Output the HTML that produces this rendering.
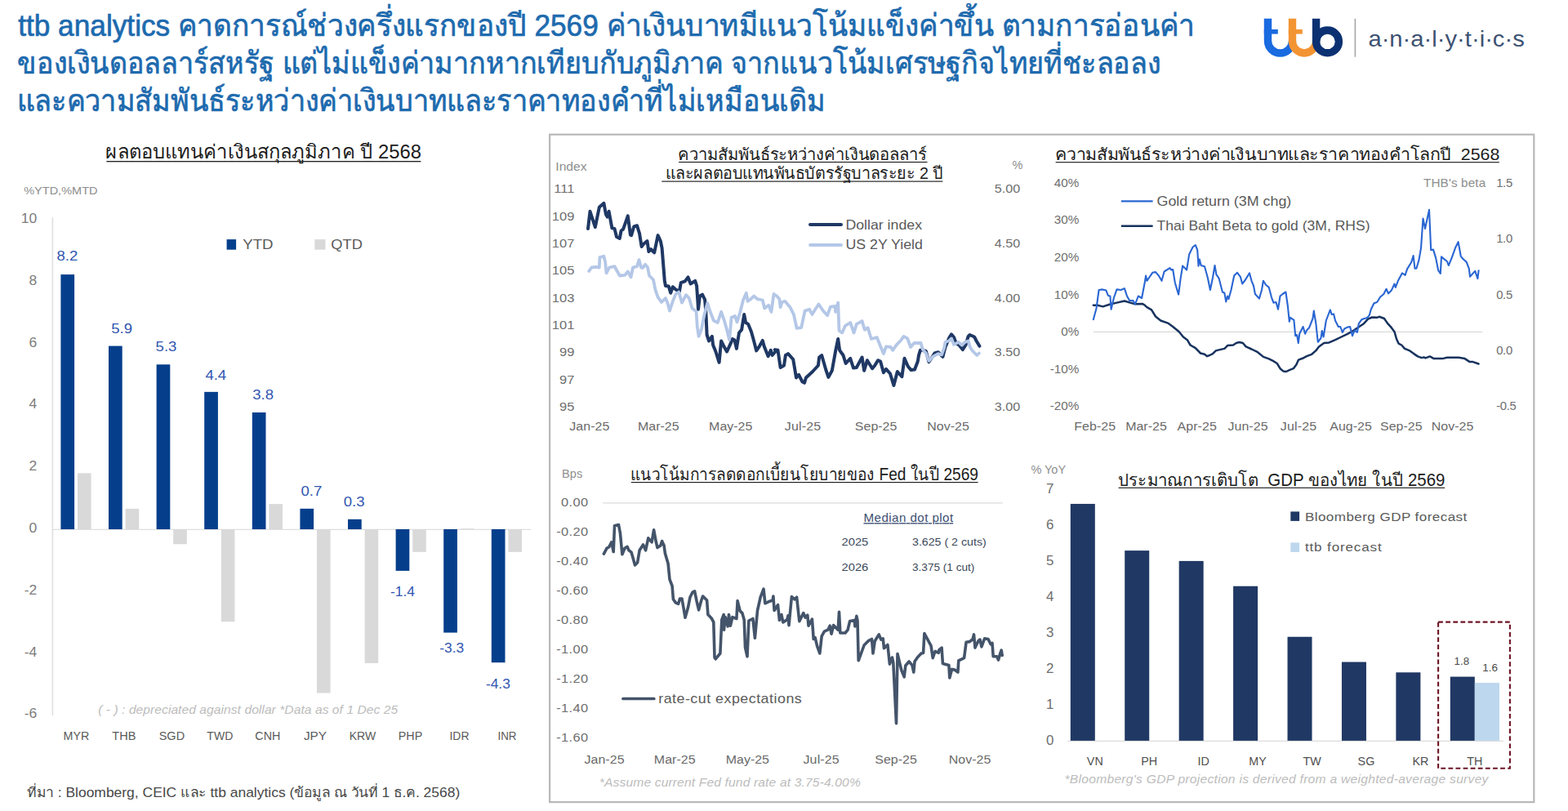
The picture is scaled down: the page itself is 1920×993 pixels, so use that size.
<!DOCTYPE html>
<html lang="th"><head><meta charset="utf-8"><title>ttb analytics</title>
<style>
html,body{margin:0;padding:0;background:#fff;}
body{width:1920px;height:993px;position:relative;overflow:hidden;font-family:"Liberation Sans",sans-serif;}
svg{position:absolute;left:0;top:0;}
text{font-family:"Liberation Sans",sans-serif;white-space:pre;}
</style></head><body>
<svg width="1920" height="993" viewBox="0 0 1920 993">
<text x="22.15" y="43.80" font-size="37.6" fill="#1d6aae" stroke="#1d6aae" stroke-width="0.7" textLength="1441" lengthAdjust="spacingAndGlyphs">ttb analytics คาดการณ์ช่วงครึ่งแรกของปี 2569 ค่าเงินบาทมีแนวโน้มแข็งค่าขึ้น ตามการอ่อนค่า</text>
<text x="21.43" y="90.00" font-size="37.6" fill="#1d6aae" stroke="#1d6aae" stroke-width="0.7" textLength="1400" lengthAdjust="spacingAndGlyphs">ของเงินดอลลาร์สหรัฐ แต่ไม่แข็งค่ามากหากเทียบกับภูมิภาค จากแนวโน้มเศรษฐกิจไทยที่ชะลอลง</text>
<text x="20.59" y="136.30" font-size="37.6" fill="#1d6aae" stroke="#1d6aae" stroke-width="0.7" textLength="990" lengthAdjust="spacingAndGlyphs">และความสัมพันธ์ระหว่างค่าเงินบาทและราคาทองคำที่ไม่เหมือนเดิม</text>
<g fill="none" stroke-width="9.4"><path d="M1552.5 22.8V50A15 15 0 0 0 1582.5 50" stroke="#1a6ae0"/><path d="M1582.5 22.8V50.4A14.55 14.55 0 0 0 1611.6 50.4" stroke="#f39433"/><path d="M1611.6 22.8V51" stroke="#0b3172"/><circle cx="1625.5" cy="50.9" r="13.9" stroke="#0b3172"/></g>
<rect x="1547.80" y="36.00" width="17.00" height="5.60" fill="#1a6ae0"/>
<rect x="1577.80" y="36.00" width="17.00" height="5.60" fill="#f39433"/>
<line x1="1659.40" y1="22.80" x2="1659.40" y2="69.70" stroke="#a6a6a6" stroke-width="1.6"/>
<text transform="translate(1675.40 56.60) scale(1.0618 1)" font-size="27.5" fill="#3d5273" textLength="180.26" lengthAdjust="spacing">a·n·a·l·y·t·i·c·s</text>
<rect x="673.1" y="164.7" width="1205.2" height="817.4" fill="none" stroke="#b8b8b8" stroke-width="2.2"/>
<g><text x="129.42" y="193.80" font-size="23.6" fill="#1c1c1c" textLength="386.5" lengthAdjust="spacingAndGlyphs">ผลตอบแทนค่าเงินสกุลภูมิภาค ปี 2568</text><rect x="130.40" y="197.05" width="385.00" height="1.3" fill="#1c1c1c"/></g>
<text transform="translate(29.20 238.40) scale(1.0671 1)" font-size="13.6" fill="#8c8c8c" textLength="84.62" lengthAdjust="spacing">%YTD,%MTD</text>
<line x1="64.40" y1="266.20" x2="64.40" y2="876.00" stroke="#dedede" stroke-width="1.5"/>
<line x1="64.40" y1="648.30" x2="650.00" y2="648.30" stroke="#dfdfdf" stroke-width="1.2"/>
<text transform="translate(25.75 273.00) scale(1.06 1)" font-size="16.5" fill="#7c7c7c" textLength="18.35" lengthAdjust="spacing">10</text>
<text transform="translate(35.47 348.80) scale(1.06 1)" font-size="16.5" fill="#7c7c7c">8</text>
<text transform="translate(35.47 424.60) scale(1.06 1)" font-size="16.5" fill="#7c7c7c">6</text>
<text transform="translate(35.47 500.40) scale(1.06 1)" font-size="16.5" fill="#7c7c7c">4</text>
<text transform="translate(35.47 576.20) scale(1.06 1)" font-size="16.5" fill="#7c7c7c">2</text>
<text transform="translate(35.47 652.00) scale(1.06 1)" font-size="16.5" fill="#7c7c7c">0</text>
<text transform="translate(29.65 727.80) scale(1.06 1)" font-size="16.5" fill="#7c7c7c" textLength="14.67" lengthAdjust="spacing">-2</text>
<text transform="translate(29.65 803.60) scale(1.06 1)" font-size="16.5" fill="#7c7c7c" textLength="14.67" lengthAdjust="spacing">-4</text>
<text transform="translate(29.65 879.40) scale(1.06 1)" font-size="16.5" fill="#7c7c7c" textLength="14.67" lengthAdjust="spacing">-6</text>
<rect x="74.40" y="336.10" width="16.70" height="311.90" fill="#053f8c"/>
<rect x="95.00" y="579.37" width="16.60" height="68.63" fill="#d9d9d9"/>
<text transform="translate(77.55 906.30) scale(0.9975 1)" font-size="14.3" fill="#5a5a5a" textLength="31.78" lengthAdjust="spacing">MYR</text>
<text transform="translate(69.50 319.20) scale(1.0790 1)" font-size="17.2" fill="#3156b0" textLength="23.91" lengthAdjust="spacing">8.2</text>
<rect x="133.00" y="423.60" width="16.70" height="224.40" fill="#053f8c"/>
<rect x="153.60" y="622.83" width="16.60" height="25.17" fill="#d9d9d9"/>
<text transform="translate(137.30 906.30) scale(1.0139 1)" font-size="14.3" fill="#5a5a5a" textLength="28.60" lengthAdjust="spacing">THB</text>
<text transform="translate(136.30 407.80) scale(1.0790 1)" font-size="17.2" fill="#3156b0" textLength="23.91" lengthAdjust="spacing">5.9</text>
<rect x="191.60" y="446.29" width="16.70" height="201.71" fill="#053f8c"/>
<rect x="212.20" y="648.00" width="16.60" height="18.30" fill="#d9d9d9"/>
<text transform="translate(194.70 906.30) scale(1.0133 1)" font-size="14.3" fill="#5a5a5a" textLength="30.99" lengthAdjust="spacing">SGD</text>
<text transform="translate(190.60 430.30) scale(1.0790 1)" font-size="17.2" fill="#3156b0" textLength="23.91" lengthAdjust="spacing">5.3</text>
<rect x="250.20" y="479.85" width="16.70" height="168.15" fill="#053f8c"/>
<rect x="270.80" y="648.00" width="16.60" height="113.25" fill="#d9d9d9"/>
<text transform="translate(253.30 906.30) scale(0.9828 1)" font-size="14.3" fill="#5a5a5a" textLength="32.56" lengthAdjust="spacing">TWD</text>
<text transform="translate(251.40 464.60) scale(1.0790 1)" font-size="17.2" fill="#3156b0" textLength="23.91" lengthAdjust="spacing">4.4</text>
<rect x="308.80" y="505.01" width="16.70" height="142.99" fill="#053f8c"/>
<rect x="329.40" y="617.11" width="16.60" height="30.89" fill="#d9d9d9"/>
<text transform="translate(312.30 906.30) scale(1.0006 1)" font-size="14.3" fill="#5a5a5a" textLength="30.98" lengthAdjust="spacing">CNH</text>
<text transform="translate(309.30 489.40) scale(1.0790 1)" font-size="17.2" fill="#3156b0" textLength="23.91" lengthAdjust="spacing">3.8</text>
<rect x="367.40" y="622.83" width="16.70" height="25.17" fill="#053f8c"/>
<rect x="388.00" y="648.00" width="16.60" height="200.56" fill="#d9d9d9"/>
<text transform="translate(371.95 906.30) scale(1.0714 1)" font-size="14.3" fill="#5a5a5a" textLength="26.23" lengthAdjust="spacing">JPY</text>
<text transform="translate(368.50 607.10) scale(1.0790 1)" font-size="17.2" fill="#3156b0" textLength="23.91" lengthAdjust="spacing">0.7</text>
<rect x="426.00" y="635.80" width="16.70" height="12.20" fill="#053f8c"/>
<rect x="446.60" y="648.00" width="16.60" height="163.96" fill="#d9d9d9"/>
<text transform="translate(427.65 906.30) scale(0.9817 1)" font-size="14.3" fill="#5a5a5a" textLength="33.10" lengthAdjust="spacing">KRW</text>
<text transform="translate(420.80 619.70) scale(1.0790 1)" font-size="17.2" fill="#3156b0" textLength="23.91" lengthAdjust="spacing">0.3</text>
<rect x="484.60" y="648.00" width="16.70" height="50.90" fill="#053f8c"/>
<rect x="505.20" y="648.00" width="16.60" height="27.83" fill="#d9d9d9"/>
<text transform="translate(487.80 906.30) scale(0.9999 1)" font-size="14.3" fill="#5a5a5a" textLength="29.40" lengthAdjust="spacing">PHP</text>
<text transform="translate(478.00 730.00) scale(1.0122 1)" font-size="17.2" fill="#3156b0" textLength="29.64" lengthAdjust="spacing">-1.4</text>
<rect x="543.20" y="648.00" width="16.70" height="126.59" fill="#053f8c"/>
<rect x="563.80" y="647.24" width="16.60" height="0.76" fill="#d9d9d9"/>
<text transform="translate(550.50 906.30) scale(0.9745 1)" font-size="14.3" fill="#5a5a5a" textLength="24.63" lengthAdjust="spacing">IDR</text>
<text transform="translate(538.20 798.90) scale(1.0122 1)" font-size="17.2" fill="#3156b0" textLength="29.64" lengthAdjust="spacing">-3.3</text>
<rect x="601.80" y="648.00" width="16.70" height="163.20" fill="#053f8c"/>
<rect x="622.40" y="648.00" width="16.60" height="27.83" fill="#d9d9d9"/>
<text transform="translate(609.45 906.30) scale(0.9380 1)" font-size="14.3" fill="#5a5a5a" textLength="24.63" lengthAdjust="spacing">INR</text>
<text transform="translate(594.90 842.50) scale(1.0122 1)" font-size="17.2" fill="#3156b0" textLength="29.64" lengthAdjust="spacing">-4.3</text>
<rect x="277.60" y="293.10" width="11.50" height="12.60" fill="#053f8c"/>
<text transform="translate(297.20 304.70) scale(1.0970 1)" font-size="17" fill="#5a5a5a" textLength="34.00" lengthAdjust="spacing">YTD</text>
<rect x="385.30" y="293.10" width="13.20" height="12.60" fill="#d9d9d9"/>
<text transform="translate(405.30 304.70) scale(1.0757 1)" font-size="17" fill="#5a5a5a" textLength="35.88" lengthAdjust="spacing">QTD</text>
<text transform="translate(120.20 874.20) scale(1.1000 1)" font-size="14.2" fill="#bcbcbc" textLength="333.64" lengthAdjust="spacing" font-style="italic">( - ) : depreciated against dollar *Data as of 1 Dec 25</text>
<text x="33.27" y="975.80" font-size="16.6" fill="#484848" textLength="530" lengthAdjust="spacingAndGlyphs">ที่มา : Bloomberg, CEIC และ ttb analytics (ข้อมูล ณ วันที่ 1 ธ.ค. 2568)</text>
<g><text x="830.47" y="195.90" font-size="20.4" fill="#1c1c1c" textLength="304.4" lengthAdjust="spacingAndGlyphs">ความสัมพันธ์ระหว่างค่าเงินดอลลาร์</text><rect x="831.20" y="197.93" width="304.30" height="1.15" fill="#1c1c1c"/></g>
<g><text x="814.70" y="219.40" font-size="20.4" fill="#1c1c1c" textLength="340.3" lengthAdjust="spacingAndGlyphs">และผลตอบแทนพันธบัตรรัฐบาลระยะ 2 ปี</text><rect x="810.30" y="221.53" width="344.10" height="1.15" fill="#1c1c1c"/></g>
<text transform="translate(680.30 208.60) scale(1.0920 1)" font-size="14.3" fill="#8e8e8e" textLength="34.98" lengthAdjust="spacing">Index</text>
<text transform="translate(1239.60 207.40) scale(1.0 1)" font-size="14.5" fill="#8e8e8e">%</text>
<text transform="translate(678.20 236.15) scale(1.1 1)" font-size="15" fill="#6e6e6e" textLength="23.00" lengthAdjust="spacing">111</text>
<text transform="translate(675.75 269.53) scale(1.1 1)" font-size="15" fill="#6e6e6e" textLength="25.23" lengthAdjust="spacing">109</text>
<text transform="translate(675.75 302.91) scale(1.1 1)" font-size="15" fill="#6e6e6e" textLength="25.23" lengthAdjust="spacing">107</text>
<text transform="translate(675.75 336.29) scale(1.1 1)" font-size="15" fill="#6e6e6e" textLength="25.23" lengthAdjust="spacing">105</text>
<text transform="translate(675.75 369.67) scale(1.1 1)" font-size="15" fill="#6e6e6e" textLength="25.23" lengthAdjust="spacing">103</text>
<text transform="translate(675.75 403.05) scale(1.1 1)" font-size="15" fill="#6e6e6e" textLength="25.23" lengthAdjust="spacing">101</text>
<text transform="translate(685.04 436.43) scale(1.1 1)" font-size="15" fill="#6e6e6e" textLength="16.79" lengthAdjust="spacing">99</text>
<text transform="translate(685.04 469.81) scale(1.1 1)" font-size="15" fill="#6e6e6e" textLength="16.79" lengthAdjust="spacing">97</text>
<text transform="translate(685.04 503.19) scale(1.1 1)" font-size="15" fill="#6e6e6e" textLength="16.79" lengthAdjust="spacing">95</text>
<text transform="translate(1217.80 236.15) scale(1.0755 1)" font-size="15" fill="#6e6e6e" textLength="29.19" lengthAdjust="spacing">5.00</text>
<text transform="translate(1217.80 302.91) scale(1.0755 1)" font-size="15" fill="#6e6e6e" textLength="29.19" lengthAdjust="spacing">4.50</text>
<text transform="translate(1217.80 369.67) scale(1.0755 1)" font-size="15" fill="#6e6e6e" textLength="29.19" lengthAdjust="spacing">4.00</text>
<text transform="translate(1217.80 436.43) scale(1.0755 1)" font-size="15" fill="#6e6e6e" textLength="29.19" lengthAdjust="spacing">3.50</text>
<text transform="translate(1217.80 503.19) scale(1.0755 1)" font-size="15" fill="#6e6e6e" textLength="29.19" lengthAdjust="spacing">3.00</text>
<text transform="translate(697.23 527.30) scale(1.1000 1)" font-size="14.5" fill="#6a6a6a" textLength="44.67" lengthAdjust="spacing">Jan-25</text>
<text transform="translate(780.93 527.30) scale(1.1000 1)" font-size="14.5" fill="#6a6a6a" textLength="46.12" lengthAdjust="spacing">Mar-25</text>
<text transform="translate(868.12 527.30) scale(1.0993 1)" font-size="14.5" fill="#6a6a6a" textLength="48.35" lengthAdjust="spacing">May-25</text>
<text transform="translate(960.85 527.30) scale(1.1000 1)" font-size="14.5" fill="#6a6a6a" textLength="40.27" lengthAdjust="spacing">Jul-25</text>
<text transform="translate(1046.82 527.30) scale(1.1000 1)" font-size="14.5" fill="#6a6a6a" textLength="46.87" lengthAdjust="spacing">Sep-25</text>
<text transform="translate(1135.23 527.30) scale(1.1000 1)" font-size="14.5" fill="#6a6a6a" textLength="46.86" lengthAdjust="spacing">Nov-25</text>
<path d="M720.0 280.0L722.5 258.8L728.8 278.1L733.8 253.8L739.4 248.8L741.9 262.5L743.8 265.6L745.6 258.8L749.4 279.4L752.5 280.0L755.0 290.0L758.8 291.9L760.6 282.5L763.1 280.6L768.8 264.4L771.9 287.5L773.1 288.1L776.2 277.5L780.0 276.2L783.1 286.2L785.6 301.9L788.1 298.8L792.5 295.0L794.4 308.1L796.9 305.0L801.2 309.4L805.6 288.1L808.8 295.0L810.6 303.8L812.5 327.5L813.8 343.8L815.0 350.0L818.8 350.6L821.2 358.8L823.8 351.2L827.5 354.4L831.9 356.9L833.8 346.2L838.8 344.4L842.5 339.4L845.6 347.5L851.2 343.8L853.1 350.0L854.4 368.8L855.0 378.8L856.9 362.5L860.0 360.6L863.1 366.9L864.4 382.5L865.6 410.0L868.1 417.5L871.9 411.9L873.1 422.5L876.2 430.0L880.6 443.8L883.1 417.5L885.6 422.5L890.0 430.6L894.4 421.2L896.9 415.0L899.4 416.2L901.9 426.9L905.0 407.5L908.1 403.8L911.2 385.0L913.1 395.0L916.2 396.9L920.0 406.2L923.1 417.5L926.2 429.4L930.0 423.8L933.8 416.9L935.6 423.8L940.6 436.2L943.8 428.8L945.6 435.0L950.0 430.0L948.8 428.1L952.5 428.8L955.6 450.0L960.0 447.5L961.9 435.0L965.0 433.1L971.2 440.0L975.0 462.5L978.1 458.8L982.5 467.5L985.0 468.8L986.9 462.5L995.0 455.0L1001.9 447.5L1003.1 437.5L1006.2 435.0L1011.2 452.5L1014.4 461.9L1018.8 453.8L1023.1 430.0L1026.2 415.0L1028.1 428.8L1032.5 435.0L1035.6 445.0L1041.2 438.8L1045.0 450.6L1048.8 450.0L1055.6 437.5L1058.1 453.8L1061.9 441.2L1068.1 451.2L1071.2 447.5L1075.0 441.2L1078.1 442.5L1081.9 456.2L1085.0 451.9L1090.0 457.5L1094.4 471.9L1098.8 455.0L1104.4 461.2L1107.5 438.8L1111.9 448.8L1115.6 453.1L1120.0 452.5L1123.8 442.5L1125.0 435.0L1126.9 428.8L1130.0 428.8L1133.8 430.0L1137.5 443.1L1144.4 432.5L1148.8 431.2L1154.4 436.9L1157.5 425.0L1161.9 414.4L1165.0 409.4L1168.1 413.1L1170.6 420.0L1174.4 422.5L1178.8 428.1L1182.5 422.5L1185.6 411.9L1187.5 410.0L1193.1 412.5L1195.6 417.5L1199.4 423.8" fill="none" stroke="#1f3864" stroke-width="4.0" stroke-linejoin="round" stroke-linecap="round"/>
<path d="M721.2 331.9L724.4 327.5L730.0 326.9L733.8 327.5L734.4 315.0L739.4 313.8L741.2 321.2L742.5 334.4L746.2 327.5L752.5 326.2L758.8 337.5L765.0 336.9L768.8 332.5L772.5 339.4L775.0 327.5L780.0 326.2L782.5 318.1L785.0 327.5L786.9 328.1L790.0 323.8L793.1 327.5L795.0 337.5L800.0 342.5L802.5 355.0L805.6 363.8L810.0 370.0L815.0 365.0L817.5 371.2L820.0 380.6L823.8 368.8L827.5 360.0L831.2 357.5L835.0 370.6L840.0 361.2L843.8 365.0L847.5 377.5L852.5 381.2L853.8 400.0L855.6 411.9L858.8 403.8L862.5 385.0L866.2 371.2L870.0 382.5L873.8 392.5L878.8 395.0L883.1 381.9L886.9 392.5L890.0 403.8L893.1 416.2L895.6 388.8L900.0 386.9L902.5 394.4L906.2 382.5L910.0 367.5L913.8 358.8L915.6 368.8L919.4 366.2L923.1 362.5L927.5 366.2L933.8 367.5L936.2 377.5L941.2 373.8L944.4 381.9L947.5 360.0L951.2 362.5L954.4 366.2L955.6 376.2L957.5 370.0L961.2 368.8L967.5 376.2L971.9 385.0L975.6 401.9L981.2 401.2L985.6 380.6L991.2 378.8L994.4 385.0L998.8 378.1L1002.5 372.5L1007.5 380.0L1013.1 386.2L1016.9 375.6L1022.5 375.0L1023.1 381.9L1026.2 370.6L1027.5 405.0L1031.2 407.5L1035.0 398.8L1041.2 395.0L1045.6 407.5L1048.8 396.9L1055.6 393.1L1058.8 403.8L1062.5 401.2L1066.9 415.0L1073.8 413.1L1077.5 422.5L1081.9 433.1L1085.0 424.4L1090.6 425.0L1093.1 428.8L1098.1 421.9L1102.5 417.5L1106.6 411.9L1111.2 414.4L1115.0 425.0L1119.4 420.0L1127.5 420.0L1130.0 428.1L1133.8 432.5L1137.5 441.9L1141.9 436.9L1148.8 433.1L1153.1 434.4L1156.2 425.6L1157.5 418.8L1161.9 417.5L1165.0 414.4L1168.1 421.9L1173.8 418.8L1177.5 422.5L1181.9 418.8L1185.6 417.5L1188.1 425.6L1191.2 430.0L1196.2 435.0L1198.8 432.5" fill="none" stroke="#b4c7e7" stroke-width="3.8" stroke-linejoin="round" stroke-linecap="round"/>
<line x1="992.00" y1="275.10" x2="1030.00" y2="275.10" stroke="#1f3864" stroke-width="4.0" stroke-linecap="round"/>
<text transform="translate(1035.40 280.90) scale(1.0743 1)" font-size="16.5" fill="#5a5a5a" textLength="87.13" lengthAdjust="spacing">Dollar index</text>
<line x1="992.00" y1="300.00" x2="1030.00" y2="300.00" stroke="#b4c7e7" stroke-width="3.8" stroke-linecap="round"/>
<text transform="translate(1035.40 304.70) scale(1.0768 1)" font-size="16.5" fill="#5a5a5a" textLength="87.76" lengthAdjust="spacing">US 2Y Yield</text>
<g><text x="1291.76" y="196.10" font-size="20.4" fill="#1c1c1c" textLength="544.5" lengthAdjust="spacingAndGlyphs">ความสัมพันธ์ระหว่างค่าเงินบาทและราคาทองคำโลกปี  2568</text><rect x="1292.60" y="198.12" width="543.20" height="1.15" fill="#1c1c1c"/></g>
<text transform="translate(1290.79 228.80) scale(1.03 1)" font-size="14.8" fill="#6e6e6e" textLength="29.62" lengthAdjust="spacing">40%</text>
<text transform="translate(1290.79 274.37) scale(1.03 1)" font-size="14.8" fill="#6e6e6e" textLength="29.62" lengthAdjust="spacing">30%</text>
<text transform="translate(1290.79 319.94) scale(1.03 1)" font-size="14.8" fill="#6e6e6e" textLength="29.62" lengthAdjust="spacing">20%</text>
<text transform="translate(1290.79 365.51) scale(1.03 1)" font-size="14.8" fill="#6e6e6e" textLength="29.62" lengthAdjust="spacing">10%</text>
<text transform="translate(1299.27 411.08) scale(1.03 1)" font-size="14.8" fill="#6e6e6e" textLength="21.39" lengthAdjust="spacing">0%</text>
<text transform="translate(1285.71 456.65) scale(1.03 1)" font-size="14.8" fill="#6e6e6e" textLength="34.55" lengthAdjust="spacing">-10%</text>
<text transform="translate(1285.71 502.22) scale(1.03 1)" font-size="14.8" fill="#6e6e6e" textLength="34.55" lengthAdjust="spacing">-20%</text>
<text transform="translate(1832.20 228.80) scale(1.0 1)" font-size="14.8" fill="#6e6e6e" textLength="19.97" lengthAdjust="spacing">1.5</text>
<text transform="translate(1832.20 297.15) scale(1.0 1)" font-size="14.8" fill="#6e6e6e" textLength="19.97" lengthAdjust="spacing">1.0</text>
<text transform="translate(1832.20 365.50) scale(1.0 1)" font-size="14.8" fill="#6e6e6e" textLength="19.97" lengthAdjust="spacing">0.5</text>
<text transform="translate(1832.20 433.85) scale(1.0 1)" font-size="14.8" fill="#6e6e6e" textLength="19.97" lengthAdjust="spacing">0.0</text>
<text transform="translate(1832.20 502.20) scale(1.0 1)" font-size="14.8" fill="#6e6e6e" textLength="24.60" lengthAdjust="spacing">-0.5</text>
<text transform="translate(1743.00 228.60) scale(1.1000 1)" font-size="13.9" fill="#8e8e8e" textLength="69.27" lengthAdjust="spacing">THB's beta</text>
<line x1="1338.70" y1="406.30" x2="1815.50" y2="406.30" stroke="#d9d9d9" stroke-width="1.3"/>
<text transform="translate(1315.33 527.30) scale(1.1000 1)" font-size="14.5" fill="#6a6a6a" textLength="46.13" lengthAdjust="spacing">Feb-25</text>
<text transform="translate(1378.13 527.30) scale(1.1000 1)" font-size="14.5" fill="#6a6a6a" textLength="46.12" lengthAdjust="spacing">Mar-25</text>
<text transform="translate(1441.44 527.30) scale(1.1000 1)" font-size="14.5" fill="#6a6a6a" textLength="43.93" lengthAdjust="spacing">Apr-25</text>
<text transform="translate(1503.43 527.30) scale(1.1000 1)" font-size="14.5" fill="#6a6a6a" textLength="44.67" lengthAdjust="spacing">Jun-25</text>
<text transform="translate(1567.85 527.30) scale(1.1000 1)" font-size="14.5" fill="#6a6a6a" textLength="40.27" lengthAdjust="spacing">Jul-25</text>
<text transform="translate(1628.22 527.30) scale(1.1000 1)" font-size="14.5" fill="#6a6a6a" textLength="46.87" lengthAdjust="spacing">Aug-25</text>
<text transform="translate(1690.02 527.30) scale(1.1000 1)" font-size="14.5" fill="#6a6a6a" textLength="46.87" lengthAdjust="spacing">Sep-25</text>
<text transform="translate(1752.83 527.30) scale(1.1000 1)" font-size="14.5" fill="#6a6a6a" textLength="46.86" lengthAdjust="spacing">Nov-25</text>
<path d="M1338.8 373.8L1343.8 373.8L1350.6 375.4L1359.4 372.5L1367.5 370.6L1376.9 368.5L1383.8 370.6L1390.0 372.2L1398.8 371.9L1401.9 373.8L1404.4 376.2L1410.0 379.4L1415.0 387.5L1421.2 392.5L1430.0 395.6L1436.2 400.0L1443.8 406.2L1448.8 412.5L1453.8 416.2L1457.5 422.5L1463.8 426.2L1470.0 432.5L1475.0 433.8L1478.1 436.2L1481.2 435.0L1485.0 433.1L1488.8 429.4L1493.8 428.1L1499.4 426.9L1503.1 423.1L1510.0 422.5L1513.8 420.0L1517.5 419.0L1521.9 420.0L1525.6 424.4L1532.5 427.5L1540.0 431.2L1546.9 436.9L1553.8 439.4L1558.8 441.9L1563.8 445.0L1567.5 451.2L1571.2 454.4L1575.0 455.0L1578.8 453.1L1583.8 451.2L1587.5 446.2L1590.0 440.6L1595.0 438.8L1600.0 436.2L1606.2 433.8L1611.2 429.4L1615.0 424.4L1621.2 420.0L1627.5 419.4L1635.0 416.2L1642.5 412.5L1650.0 408.8L1655.0 406.2L1662.5 401.2L1670.0 396.2L1675.0 390.6L1680.0 388.5L1686.2 388.8L1688.8 387.8L1695.0 390.0L1698.8 395.6L1703.8 401.2L1707.5 406.2L1710.0 415.0L1712.5 420.6L1716.2 422.5L1720.0 426.9L1726.2 429.4L1731.2 433.1L1736.0 436.4L1740.8 438.1L1743.5 437.4L1745.5 438.4L1750.9 436.4L1755.7 439.1L1766.5 439.1L1771.9 437.7L1786.1 437.7L1793.6 439.1L1799.7 443.1L1803.7 443.1L1810.5 445.5" fill="none" stroke="#17325e" stroke-width="2.5" stroke-linejoin="round" stroke-linecap="round"/>
<path d="M1338.8 391.2L1342.5 377.5L1345.6 355.0L1350.0 354.4L1354.4 355.6L1356.9 361.9L1359.4 362.5L1360.6 378.8L1363.8 365.0L1367.5 354.4L1372.5 355.0L1376.9 353.1L1380.0 362.5L1383.1 368.1L1387.5 368.1L1390.0 372.5L1393.8 362.5L1398.1 365.0L1401.9 345.0L1403.1 337.5L1404.4 343.8L1411.2 333.8L1415.0 333.1L1418.8 337.5L1422.5 343.8L1425.6 332.5L1432.5 328.1L1434.4 330.6L1436.2 330.0L1438.8 346.2L1443.1 360.6L1445.6 341.2L1448.1 325.6L1453.1 330.6L1456.2 311.2L1460.6 302.5L1463.8 300.0L1466.2 306.2L1467.5 325.6L1468.8 317.5L1470.6 325.0L1475.0 326.2L1478.8 340.0L1481.9 355.0L1485.0 340.0L1487.5 325.0L1489.4 336.2L1492.5 340.6L1496.9 357.5L1499.4 358.8L1501.2 369.4L1503.1 362.5L1504.4 366.2L1507.5 355.0L1511.2 337.5L1515.0 333.8L1518.8 338.8L1521.2 347.5L1525.0 342.5L1530.0 334.4L1532.5 343.8L1535.0 350.0L1536.9 360.0L1541.9 365.6L1545.0 355.0L1546.9 343.8L1550.0 348.8L1553.8 351.9L1556.9 363.8L1559.4 370.6L1562.5 370.0L1565.0 378.8L1567.5 362.5L1570.6 360.0L1574.4 357.5L1576.9 375.0L1578.8 393.8L1580.0 388.8L1584.4 391.9L1586.2 411.2L1588.1 410.0L1589.8 420.0L1591.2 408.8L1595.6 400.0L1598.1 408.8L1600.0 404.4L1603.1 401.2L1607.5 390.0L1608.8 380.6L1611.2 395.0L1613.8 418.8L1617.5 413.8L1618.8 405.0L1620.6 412.5L1623.8 392.5L1628.8 379.4L1630.6 385.0L1633.1 384.4L1635.0 392.5L1638.8 400.0L1641.2 400.0L1643.8 406.9L1646.2 402.5L1650.0 400.6L1653.1 400.0L1656.0 411.2L1658.8 404.4L1661.9 406.9L1663.8 396.2L1667.5 391.2L1670.6 390.0L1673.1 389.4L1675.0 388.1L1676.9 385.6L1678.8 378.8L1682.5 371.2L1686.2 370.0L1690.0 363.8L1694.4 360.0L1697.5 353.8L1700.0 359.4L1703.8 355.6L1707.5 347.5L1708.8 351.9L1711.9 343.8L1716.9 334.4L1720.6 336.9L1723.1 329.4L1728.1 321.2L1730.6 313.1L1732.5 328.8L1734.4 328.8L1737.5 318.1L1740.0 303.8L1742.5 267.5L1745.0 280.0L1750.0 256.9L1752.2 306.2L1755.0 305.6L1758.1 315.6L1761.2 331.2L1763.8 335.0L1765.0 314.4L1769.4 318.1L1771.9 320.0L1773.8 325.0L1777.5 316.2L1781.9 303.8L1785.6 296.2L1788.8 313.8L1791.9 317.5L1795.6 320.6L1798.8 328.8L1800.0 338.8L1806.2 331.9L1809.4 341.2L1810.6 331.2" fill="none" stroke="#2a66d2" stroke-width="2.1" stroke-linejoin="round" stroke-linecap="round"/>
<line x1="1372.90" y1="246.40" x2="1411.60" y2="246.40" stroke="#2a66d2" stroke-width="2.1"/>
<text transform="translate(1416.50 252.30) scale(1.0959 1)" font-size="16.3" fill="#5a5a5a" textLength="150.38" lengthAdjust="spacing">Gold return (3M chg)</text>
<line x1="1372.90" y1="276.70" x2="1411.60" y2="276.70" stroke="#17325e" stroke-width="2.5"/>
<text transform="translate(1416.50 281.60) scale(1.0749 1)" font-size="16.3" fill="#5a5a5a" textLength="242.80" lengthAdjust="spacing">Thai Baht Beta to gold (3M, RHS)</text>
<g><text x="772.11" y="587.90" font-size="21.6" fill="#1c1c1c" textLength="425.8" lengthAdjust="spacingAndGlyphs">แนวโน้มการลดดอกเบี้ยนโยบายของ Fed ในปี 2569</text><rect x="772.80" y="590.02" width="424.80" height="1.15" fill="#1c1c1c"/></g>
<text transform="translate(688.10 584.80) scale(1.0404 1)" font-size="14" fill="#8e8e8e" textLength="24.12" lengthAdjust="spacing">Bps</text>
<line x1="738.20" y1="615.80" x2="1227.80" y2="615.80" stroke="#dcdcdc" stroke-width="1.3"/>
<text transform="translate(687.12 620.00) scale(1.08 1)" font-size="15.2" fill="#6e6e6e" textLength="30.63" lengthAdjust="spacing">0.00</text>
<text transform="translate(681.27 656.04) scale(1.08 1)" font-size="15.2" fill="#6e6e6e" textLength="36.05" lengthAdjust="spacing">-0.20</text>
<text transform="translate(681.27 692.08) scale(1.08 1)" font-size="15.2" fill="#6e6e6e" textLength="36.05" lengthAdjust="spacing">-0.40</text>
<text transform="translate(681.27 728.12) scale(1.08 1)" font-size="15.2" fill="#6e6e6e" textLength="36.05" lengthAdjust="spacing">-0.60</text>
<text transform="translate(681.27 764.16) scale(1.08 1)" font-size="15.2" fill="#6e6e6e" textLength="36.05" lengthAdjust="spacing">-0.80</text>
<text transform="translate(681.27 800.20) scale(1.08 1)" font-size="15.2" fill="#6e6e6e" textLength="36.05" lengthAdjust="spacing">-1.00</text>
<text transform="translate(681.27 836.24) scale(1.08 1)" font-size="15.2" fill="#6e6e6e" textLength="36.05" lengthAdjust="spacing">-1.20</text>
<text transform="translate(681.27 872.28) scale(1.08 1)" font-size="15.2" fill="#6e6e6e" textLength="36.05" lengthAdjust="spacing">-1.40</text>
<text transform="translate(681.27 908.32) scale(1.08 1)" font-size="15.2" fill="#6e6e6e" textLength="36.05" lengthAdjust="spacing">-1.60</text>
<text transform="translate(715.43 934.60) scale(1.1000 1)" font-size="14.5" fill="#6a6a6a" textLength="44.67" lengthAdjust="spacing">Jan-25</text>
<text transform="translate(800.83 934.60) scale(1.1000 1)" font-size="14.5" fill="#6a6a6a" textLength="46.12" lengthAdjust="spacing">Mar-25</text>
<text transform="translate(888.82 934.60) scale(1.0993 1)" font-size="14.5" fill="#6a6a6a" textLength="48.35" lengthAdjust="spacing">May-25</text>
<text transform="translate(983.45 934.60) scale(1.1000 1)" font-size="14.5" fill="#6a6a6a" textLength="40.27" lengthAdjust="spacing">Jul-25</text>
<text transform="translate(1071.22 934.60) scale(1.1000 1)" font-size="14.5" fill="#6a6a6a" textLength="46.87" lengthAdjust="spacing">Sep-25</text>
<text transform="translate(1161.83 934.60) scale(1.1000 1)" font-size="14.5" fill="#6a6a6a" textLength="46.86" lengthAdjust="spacing">Nov-25</text>
<path d="M739.4 678.1L743.1 671.2L745.6 670.0L748.8 663.8L751.2 675.6L752.5 643.8L757.5 642.5L759.4 652.5L761.9 678.8L765.0 671.2L768.1 669.4L770.0 673.8L773.1 676.2L775.6 685.0L777.5 691.9L780.6 688.8L783.1 673.8L787.5 666.9L790.6 673.8L793.8 658.8L798.1 663.8L800.6 648.8L803.1 662.5L805.0 670.6L808.8 668.1L810.6 662.5L813.1 668.1L814.4 677.5L818.1 690.0L820.0 709.4L823.1 717.5L824.4 733.8L827.5 738.1L830.6 739.4L832.5 733.1L835.0 733.1L836.9 743.8L839.0 756.2L842.5 743.8L845.0 731.2L848.1 725.0L850.6 723.8L853.1 736.2L855.6 746.9L858.8 735.0L860.6 730.0L865.6 735.0L866.9 752.5L871.2 756.9L873.8 761.9L875.0 805.0L876.2 806.9L881.9 800.0L883.8 758.8L886.2 752.5L886.5 771.2L888.1 755.6L891.2 766.9L892.5 752.5L894.4 766.2L896.9 755.6L901.9 757.5L903.1 735.6L906.2 748.1L908.8 750.6L911.2 758.8L912.5 792.5L915.0 803.8L916.9 760.0L921.9 757.5L924.4 781.2L927.5 747.5L931.2 731.2L935.0 721.2L936.9 738.8L942.5 736.2L946.2 735.0L946.9 730.0L948.1 747.5L952.5 740.6L954.4 759.4L956.9 752.5L958.8 761.9L963.8 758.8L965.0 753.8L966.0 765.6L969.4 730.6L973.1 733.8L975.6 731.2L978.8 760.6L983.8 750.6L986.2 756.2L988.8 753.1L990.0 766.2L994.4 758.1L996.2 782.5L998.1 780.6L1000.6 791.2L1003.8 800.0L1006.2 778.8L1009.4 773.1L1013.8 771.2L1016.2 766.2L1018.1 776.2L1020.6 765.6L1026.2 771.2L1027.5 749.4L1028.8 775.0L1035.0 775.0L1038.1 771.2L1040.6 760.6L1046.2 759.4L1046.9 766.9L1048.8 754.4L1050.0 760.0L1051.2 808.8L1058.1 790.0L1062.5 785.6L1063.8 784.4L1067.5 782.5L1069.0 800.0L1071.2 785.0L1076.2 776.9L1078.8 783.1L1081.2 781.9L1082.5 793.8L1086.9 789.4L1089.4 813.1L1092.5 805.0L1093.8 811.2L1097.5 885.6L1099.0 800.6L1103.8 820.6L1107.2 828.8L1108.8 815.0L1113.1 810.0L1116.9 814.4L1118.8 823.1L1120.0 810.0L1123.8 804.4L1128.1 800.0L1130.6 799.4L1131.9 775.6L1140.0 790.6L1142.2 805.6L1145.0 797.5L1149.4 799.4L1150.0 795.6L1153.1 793.1L1154.4 812.5L1161.9 814.4L1162.8 830.0L1165.6 819.4L1168.8 820.0L1172.9 823.1L1173.8 808.8L1180.6 805.6L1183.1 786.2L1187.5 785.6L1191.2 782.5L1192.5 776.9L1194.0 793.1L1198.1 784.4L1200.0 783.1L1201.9 791.9L1205.6 781.9L1210.0 782.5L1213.1 788.8L1215.0 787.5L1216.2 803.8L1220.6 803.8L1222.5 808.1L1224.4 801.2L1226.2 796.2L1227.2 802.5" fill="none" stroke="#44546a" stroke-width="3.6" stroke-linejoin="round" stroke-linecap="round"/>
<line x1="763.00" y1="855.50" x2="800.80" y2="855.50" stroke="#44546a" stroke-width="3.7" stroke-linecap="round"/>
<text transform="translate(806.20 860.50) scale(1.1000 1)" font-size="16.2" fill="#5a5a5a" textLength="159.55" lengthAdjust="spacing">rate-cut expectations</text>
<text transform="translate(1057.50 639.20) scale(1.1000 1)" font-size="13.8" fill="#3d4f72" textLength="99.73" lengthAdjust="spacing" text-decoration="underline">Median dot plot</text>
<text transform="translate(1030.60 667.70) scale(1.0888 1)" font-size="13.5" fill="#3a4759" textLength="30.03" lengthAdjust="spacing">2025</text>
<text transform="translate(1117.00 667.70) scale(1.0511 1)" font-size="13.5" fill="#3a4759" textLength="86.29" lengthAdjust="spacing">3.625 ( 2 cuts)</text>
<text transform="translate(1030.60 698.70) scale(1.0888 1)" font-size="13.5" fill="#3a4759" textLength="30.03" lengthAdjust="spacing">2026</text>
<text transform="translate(1117.00 698.70) scale(1.0067 1)" font-size="13.5" fill="#3a4759" textLength="75.79" lengthAdjust="spacing">3.375 (1 cut)</text>
<text transform="translate(733.80 962.80) scale(1.1000 1)" font-size="14.2" fill="#bcbcbc" textLength="290.91" lengthAdjust="spacing" font-style="italic">*Assume current Fed fund rate at 3.75-4.00%</text>
<g><text x="1368.78" y="594.60" font-size="21.6" fill="#1c1c1c" textLength="400.7" lengthAdjust="spacingAndGlyphs">ประมาณการเติบโต  GDP ของไทย ในปี 2569</text><rect x="1369.60" y="596.73" width="399.60" height="1.15" fill="#1c1c1c"/></g>
<text transform="translate(1262.40 580.30) scale(0.9923 1)" font-size="14.6" fill="#8e8e8e" textLength="43.03" lengthAdjust="spacing">% YoY</text>
<line x1="1307.00" y1="907.30" x2="1841.00" y2="907.30" stroke="#dcdcdc" stroke-width="1.2"/>
<text transform="translate(1281.01 911.90) scale(1.08 1)" font-size="15.6" fill="#6e6e6e">0</text>
<text transform="translate(1281.01 867.90) scale(1.08 1)" font-size="15.6" fill="#6e6e6e">1</text>
<text transform="translate(1281.01 823.90) scale(1.08 1)" font-size="15.6" fill="#6e6e6e">2</text>
<text transform="translate(1281.01 779.90) scale(1.08 1)" font-size="15.6" fill="#6e6e6e">3</text>
<text transform="translate(1281.01 735.90) scale(1.08 1)" font-size="15.6" fill="#6e6e6e">4</text>
<text transform="translate(1281.01 691.90) scale(1.08 1)" font-size="15.6" fill="#6e6e6e">5</text>
<text transform="translate(1281.01 647.90) scale(1.08 1)" font-size="15.6" fill="#6e6e6e">6</text>
<text transform="translate(1281.01 603.90) scale(1.08 1)" font-size="15.6" fill="#6e6e6e">7</text>
<rect x="1310.80" y="616.94" width="30.00" height="289.96" fill="#203864"/>
<text transform="translate(1330.86 937.10) scale(0.9800 1)" font-size="14.6" fill="#4f4f4f" textLength="20.28" lengthAdjust="spacing">VN</text>
<rect x="1377.23" y="674.14" width="30.00" height="232.76" fill="#203864"/>
<text transform="translate(1397.29 937.10) scale(0.9800 1)" font-size="14.6" fill="#4f4f4f" textLength="20.28" lengthAdjust="spacing">PH</text>
<rect x="1443.66" y="686.90" width="30.00" height="220.00" fill="#203864"/>
<text transform="translate(1466.51 937.10) scale(0.9800 1)" font-size="14.6" fill="#4f4f4f" textLength="14.60" lengthAdjust="spacing">ID</text>
<rect x="1510.09" y="717.70" width="30.00" height="189.20" fill="#203864"/>
<text transform="translate(1529.36 937.10) scale(0.9800 1)" font-size="14.6" fill="#4f4f4f" textLength="21.90" lengthAdjust="spacing">MY</text>
<rect x="1576.52" y="779.74" width="30.00" height="127.16" fill="#203864"/>
<text transform="translate(1595.40 937.10) scale(0.9800 1)" font-size="14.6" fill="#4f4f4f" textLength="22.70" lengthAdjust="spacing">TW</text>
<rect x="1642.95" y="810.54" width="30.00" height="96.36" fill="#203864"/>
<text transform="translate(1662.61 937.10) scale(0.9800 1)" font-size="14.6" fill="#4f4f4f" textLength="21.09" lengthAdjust="spacing">SG</text>
<rect x="1709.38" y="823.30" width="30.00" height="83.60" fill="#203864"/>
<text transform="translate(1729.44 937.10) scale(0.9800 1)" font-size="14.6" fill="#4f4f4f" textLength="20.28" lengthAdjust="spacing">KR</text>
<rect x="1775.81" y="828.58" width="30.00" height="78.32" fill="#203864"/>
<text transform="translate(1796.27 937.10) scale(0.9800 1)" font-size="14.6" fill="#4f4f4f" textLength="19.46" lengthAdjust="spacing">TH</text>
<rect x="1805.80" y="836.06" width="30.20" height="70.84" fill="#bdd7ee"/>
<text transform="translate(1780.50 814.00) scale(1.0136 1)" font-size="13.2" fill="#4a4a4a" textLength="18.35" lengthAdjust="spacing">1.8</text>
<text transform="translate(1815.30 822.00) scale(1.0136 1)" font-size="13.2" fill="#4a4a4a" textLength="18.35" lengthAdjust="spacing">1.6</text>
<rect x="1580.30" y="626.40" width="10.80" height="11.50" fill="#1f3864"/>
<text transform="translate(1597.90 637.60) scale(1.1000 1)" font-size="15.5" fill="#5a5a5a" textLength="180.36" lengthAdjust="spacing">Bloomberg GDP forecast</text>
<rect x="1580.30" y="664.40" width="10.80" height="11.50" fill="#bdd7ee"/>
<text transform="translate(1597.90 675.00) scale(1.1000 1)" font-size="15.5" fill="#5a5a5a" textLength="85.27" lengthAdjust="spacing">ttb forecast</text>
<rect x="1761.1" y="761.6" width="87.8" height="179.2" fill="none" stroke="#6e1525" stroke-width="2.1" stroke-dasharray="5.8 3.3"/>
<text transform="translate(1303.50 959.00) scale(1.1000 1)" font-size="14.2" fill="#bcbcbc" textLength="471.73" lengthAdjust="spacing" font-style="italic">*Bloomberg's GDP projection is derived from a weighted-average survey</text>
</svg>

</body></html>
